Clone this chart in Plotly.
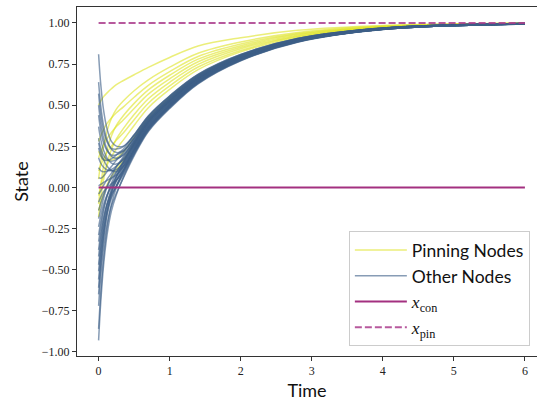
import plotly.graph_objects as go

# ---------------- data ----------------
TIME = [0.0, 0.03, 0.07, 0.12, 0.18, 0.25, 0.35, 0.5, 0.7, 1.0, 1.4, 2.0, 2.8, 4.0, 6.0]

PINNING_NODES = [
    [0.50, 0.525, 0.552, 0.575, 0.600, 0.625, 0.650, 0.685, 0.730, 0.790, 0.860, 0.910, 0.955, 0.985, 0.999],
    [0.05, 0.153, 0.255, 0.345, 0.419, 0.476, 0.527, 0.588, 0.654, 0.731, 0.816, 0.884, 0.942, 0.981, 0.998],
    [0.28, 0.314, 0.352, 0.389, 0.422, 0.454, 0.490, 0.548, 0.621, 0.704, 0.796, 0.872, 0.936, 0.979, 0.998],
    [-0.10, 0.014, 0.129, 0.231, 0.313, 0.377, 0.437, 0.511, 0.593, 0.682, 0.780, 0.862, 0.931, 0.977, 0.997],
    [0.18, 0.217, 0.257, 0.298, 0.334, 0.370, 0.412, 0.480, 0.567, 0.660, 0.764, 0.852, 0.926, 0.975, 0.997],
    [-0.18, -0.068, 0.046, 0.148, 0.230, 0.295, 0.359, 0.443, 0.539, 0.639, 0.748, 0.843, 0.921, 0.974, 0.997],
    [0.10, 0.134, 0.174, 0.215, 0.251, 0.287, 0.333, 0.412, 0.512, 0.617, 0.732, 0.833, 0.917, 0.972, 0.996],
    [-0.05, 0.009, 0.075, 0.136, 0.188, 0.234, 0.289, 0.377, 0.485, 0.596, 0.716, 0.824, 0.912, 0.971, 0.996],
    [0.22, 0.192, 0.173, 0.165, 0.166, 0.180, 0.216, 0.305, 0.424, 0.547, 0.680, 0.802, 0.901, 0.967, 0.995],
    [-0.14, -0.093, -0.037, 0.018, 0.065, 0.109, 0.168, 0.271, 0.400, 0.528, 0.666, 0.794, 0.897, 0.966, 0.995],
]

OTHER_NODES = [
    [0.81, 0.628, 0.470, 0.354, 0.280, 0.251, 0.251, 0.317, 0.430, 0.552, 0.684, 0.806, 0.905, 0.969, 0.997],
    [0.64, 0.498, 0.376, 0.288, 0.232, 0.212, 0.223, 0.297, 0.415, 0.540, 0.675, 0.800, 0.901, 0.968, 0.996],
    [0.57, 0.445, 0.343, 0.276, 0.238, 0.233, 0.248, 0.320, 0.435, 0.556, 0.687, 0.808, 0.906, 0.970, 0.997],
    [0.50, 0.392, 0.299, 0.231, 0.189, 0.177, 0.196, 0.278, 0.400, 0.528, 0.666, 0.794, 0.897, 0.966, 0.995],
    [0.44, 0.346, 0.271, 0.223, 0.197, 0.198, 0.221, 0.301, 0.420, 0.544, 0.678, 0.802, 0.902, 0.968, 0.996],
    [0.37, 0.292, 0.226, 0.178, 0.148, 0.142, 0.169, 0.258, 0.385, 0.516, 0.657, 0.788, 0.894, 0.965, 0.995],
    [0.30, 0.239, 0.194, 0.169, 0.159, 0.170, 0.201, 0.287, 0.410, 0.536, 0.672, 0.798, 0.900, 0.967, 0.996],
    [0.24, 0.193, 0.167, 0.164, 0.173, 0.198, 0.233, 0.317, 0.435, 0.556, 0.687, 0.808, 0.906, 0.970, 0.997],
    [0.18, 0.147, 0.123, 0.107, 0.101, 0.108, 0.147, 0.244, 0.375, 0.508, 0.651, 0.784, 0.891, 0.963, 0.994],
    [0.12, 0.102, 0.095, 0.099, 0.109, 0.130, 0.172, 0.267, 0.395, 0.524, 0.663, 0.792, 0.896, 0.965, 0.995],
    [0.06, 0.056, 0.069, 0.096, 0.127, 0.165, 0.212, 0.303, 0.425, 0.548, 0.681, 0.804, 0.903, 0.968, 0.996],
    [0.01, 0.018, 0.030, 0.043, 0.057, 0.076, 0.125, 0.230, 0.365, 0.500, 0.645, 0.780, 0.889, 0.962, 0.994],
    [-0.04, -0.021, 0.012, 0.050, 0.087, 0.127, 0.179, 0.278, 0.405, 0.532, 0.669, 0.796, 0.899, 0.967, 0.996],
    [-0.09, -0.059, -0.026, 0.000, 0.022, 0.045, 0.100, 0.211, 0.350, 0.488, 0.636, 0.774, 0.885, 0.961, 0.993],
    [-0.14, -0.097, -0.045, 0.007, 0.052, 0.095, 0.154, 0.258, 0.390, 0.520, 0.660, 0.790, 0.895, 0.965, 0.995],
    [-0.19, -0.135, -0.066, 0.005, 0.067, 0.125, 0.187, 0.288, 0.415, 0.540, 0.675, 0.800, 0.901, 0.968, 0.996],
    [-0.24, -0.173, -0.104, -0.045, 0.002, 0.043, 0.108, 0.221, 0.360, 0.496, 0.642, 0.778, 0.888, 0.962, 0.994],
    [-0.29, -0.211, -0.127, -0.050, 0.013, 0.066, 0.134, 0.245, 0.380, 0.512, 0.654, 0.786, 0.893, 0.964, 0.995],
    [-0.33, -0.242, -0.144, -0.051, 0.025, 0.089, 0.160, 0.268, 0.400, 0.528, 0.666, 0.794, 0.897, 0.966, 0.995],
    [-0.38, -0.280, -0.182, -0.101, -0.040, 0.007, 0.081, 0.202, 0.345, 0.484, 0.633, 0.772, 0.884, 0.960, 0.993],
    [-0.42, -0.310, -0.198, -0.100, -0.023, 0.038, 0.114, 0.231, 0.370, 0.504, 0.648, 0.782, 0.890, 0.963, 0.994],
    [-0.47, -0.349, -0.220, -0.102, -0.008, 0.068, 0.147, 0.261, 0.395, 0.524, 0.663, 0.792, 0.896, 0.965, 0.995],
    [-0.51, -0.379, -0.249, -0.139, -0.056, 0.007, 0.089, 0.212, 0.355, 0.492, 0.639, 0.776, 0.887, 0.962, 0.994],
    [-0.56, -0.417, -0.269, -0.138, -0.036, 0.044, 0.129, 0.248, 0.385, 0.516, 0.657, 0.788, 0.894, 0.965, 0.995],
    [-0.61, -0.455, -0.300, -0.167, -0.066, 0.011, 0.099, 0.223, 0.365, 0.500, 0.645, 0.780, 0.889, 0.962, 0.994],
    [-0.65, -0.486, -0.313, -0.157, -0.034, 0.063, 0.153, 0.271, 0.405, 0.532, 0.669, 0.796, 0.899, 0.967, 0.996],
    [-0.72, -0.539, -0.364, -0.220, -0.113, -0.036, 0.059, 0.192, 0.340, 0.480, 0.630, 0.770, 0.883, 0.960, 0.993],
    [-0.86, -0.646, -0.431, -0.246, -0.105, -0.001, 0.102, 0.233, 0.375, 0.508, 0.651, 0.784, 0.891, 0.963, 0.994],
    [-0.93, -0.700, -0.474, -0.285, -0.144, -0.044, 0.064, 0.202, 0.350, 0.488, 0.636, 0.774, 0.885, 0.961, 0.993],
    [0.27, 0.216, 0.168, 0.129, 0.103, 0.096, 0.130, 0.227, 0.360, 0.496, 0.642, 0.778, 0.888, 0.962, 0.994],
]

REF_TIME = [0.0, 6.0]
X_CON = [0.0, 0.0]
X_PIN = [1.0, 1.0]

X_TICKS = [0, 1, 2, 3, 4, 5, 6]
Y_TICKS = [-1.0, -0.75, -0.5, -0.25, 0.0, 0.25, 0.5, 0.75, 1.0]

# ---------------- styling ----------------
YELLOW = "rgba(222,228,40,0.62)"
BLUE = "rgba(62,95,135,0.62)"
PURPLE = "rgb(163,48,128)"
PURPLE_D = "rgba(170,60,140,0.85)"
SANS = "Lato"
SERIF = "Liberation Serif"

fig = go.Figure()

for i, ys in enumerate(PINNING_NODES):
    fig.add_trace(go.Scatter(
        x=TIME, y=ys, mode="lines", line=dict(color=YELLOW, width=1.5, shape="spline", smoothing=1.0),
        name="Pinning Nodes", showlegend=(i == 0), legendgroup="pin", legendrank=1,
        hoverinfo="skip"))

for i, ys in enumerate(OTHER_NODES):
    fig.add_trace(go.Scatter(
        x=TIME, y=ys, mode="lines", line=dict(color=BLUE, width=1.5, shape="spline", smoothing=1.0),
        name="Other Nodes", showlegend=(i == 0), legendgroup="oth", legendrank=2,
        hoverinfo="skip"))

fig.add_trace(go.Scatter(
    x=REF_TIME, y=X_CON, mode="lines", line=dict(color=PURPLE, width=2),
    name='<span style="font-family:Liberation Serif"><i>x</i><sub>con</sub></span>', legendrank=3))
fig.add_trace(go.Scatter(
    x=REF_TIME, y=X_PIN, mode="lines", line=dict(color=PURPLE_D, width=2, dash="7px,3px"),
    name='<span style="font-family:Liberation Serif"><i>x</i><sub>pin</sub></span>', legendrank=4))

fig.update_layout(
    width=537, height=402,
    margin=dict(l=77, r=0, t=7, b=46, autoexpand=False),
    paper_bgcolor="white", plot_bgcolor="white",
    font=dict(family=SANS, size=17, color="#111"),
    legend=dict(
        x=0.591, y=0.358, xanchor="left", yanchor="top",
        bgcolor="rgba(255,255,255,0.85)", bordercolor="#cccccc", borderwidth=1,
        font=dict(family=SANS, size=17.5, color="#111"),
        itemwidth=52, tracegroupgap=0,
    ),
    showlegend=True,
)

fig.update_xaxes(
    range=[-0.304, 6.17], tickvals=X_TICKS, ticktext=[str(v) for v in X_TICKS],
    showgrid=False, zeroline=False, showline=True, linecolor="#333", linewidth=1, mirror=True,
    ticks="outside", ticklen=4, tickcolor="#333", automargin=False,
    tickfont=dict(family=SERIF, size=12, color="#222"),
    title=dict(text="Time", font=dict(family=SANS, size=18), standoff=6),
)
fig.update_yaxes(
    range=[-1.025, 1.097], tickvals=Y_TICKS, tickformat=".2f",
    showgrid=False, zeroline=False, showline=True, linecolor="#333", linewidth=1, mirror=False,
    ticks="outside", ticklen=4, tickcolor="#333", automargin=False,
    tickfont=dict(family=SERIF, size=12, color="#222"),
    title=dict(text="State", font=dict(family=SANS, size=18), standoff=8),
)

fig.write_html(
    "out.html",
    config={"displayModeBar": False},
    post_script="document.body.style.margin='0';document.body.style.padding='0';"
                "document.documentElement.style.overflow='hidden';",
)
